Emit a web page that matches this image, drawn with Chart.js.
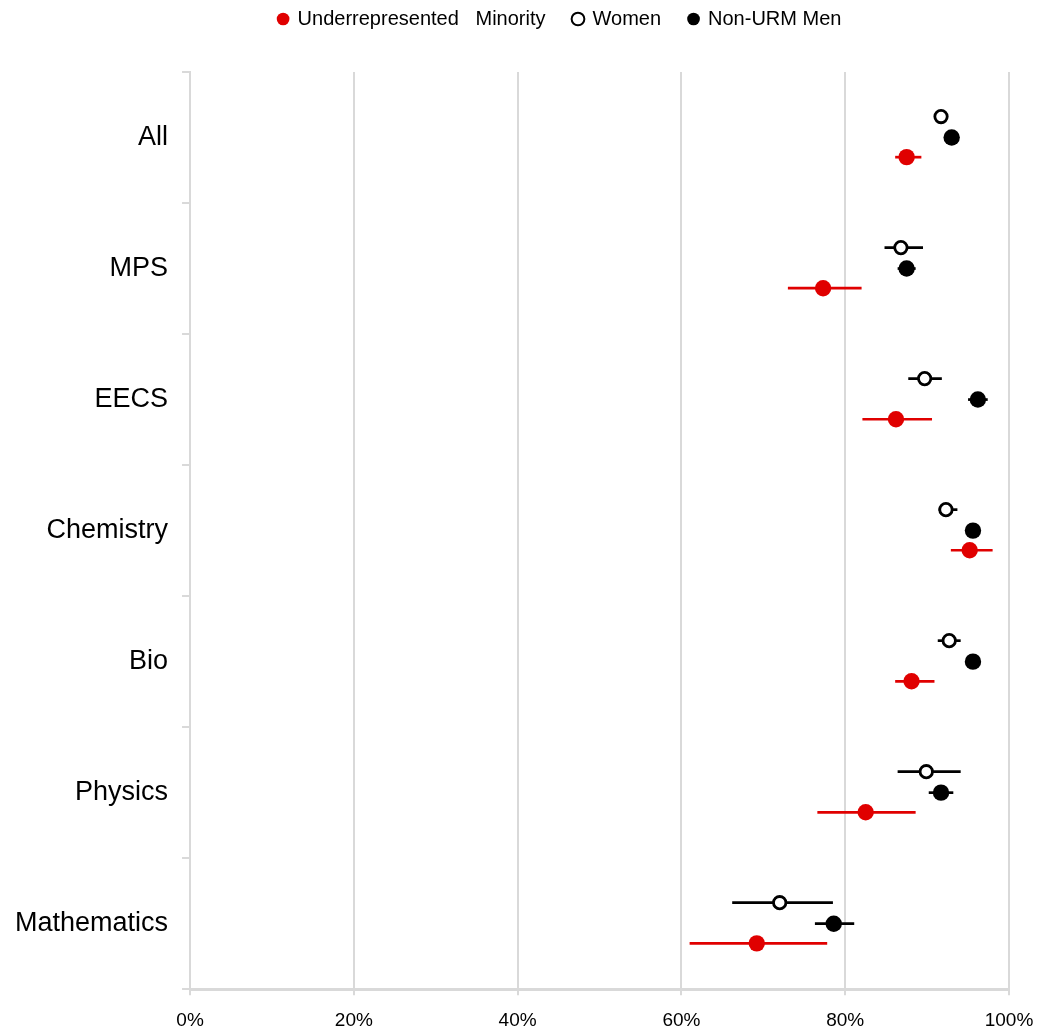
<!DOCTYPE html>
<html>
<head>
<meta charset="utf-8">
<script src="https://cdn.jsdelivr.net/npm/chart.js@4/dist/chart.umd.min.js"></script>
<style>
  html, body { margin: 0; padding: 0; background: #fff; }
  #wrap { width: 1052px; height: 1027px; }
</style>
</head>
<body>
<div id="wrap"><canvas id="grafico"></canvas></div>
<script>
// categorias e valores (percentual)
const categories = ['All', 'MPS', 'EECS', 'Chemistry', 'Bio', 'Physics', 'Mathematics'];
const xTickLabels = ['0%', '20%', '40%', '60%', '80%', '100%'];

const urmValues = [87.5, 77.3, 86.2, 95.2, 88.1, 82.5, 69.2];
const urmLow    = [86.1, 73.0, 82.1, 92.9, 86.1, 76.6, 61.0];
const urmHigh   = [89.3, 82.0, 90.6, 98.0, 90.9, 88.6, 77.8];

const womenValues = [91.7, 86.8, 89.7, 92.3, 92.7, 89.9, 72.0];
const womenLow    = [91.2, 84.8, 87.7, 91.4, 91.3, 86.4, 66.2];
const womenHigh   = [92.2, 89.5, 91.8, 93.7, 94.1, 94.1, 78.5];

const menValues = [93.0, 87.5, 96.2, 95.6, 95.6, 91.7, 78.6];
const menLow    = [92.5, 86.4, 95.0, 95.1, 95.2, 90.2, 76.3];
const menHigh   = [93.5, 88.6, 97.4, 96.1, 96.0, 93.2, 81.1];

// deslocamento vertical de cada serie dentro da categoria
const offsets = { urm: 0.15, women: -0.16, men: 0 };
const fonte = 'Liberation Sans, Arial, sans-serif';

function montarPontos(valores, low, high, off) {
  return valores.map((v, i) => ({ x: v, y: i + off, low: low[i], high: high[i] }));
}

// barras de erro horizontais, desenhadas antes dos pontos
const barrasErro = {
  id: 'barrasErro',
  beforeDatasetsDraw(chart) {
    const ctx = chart.ctx;
    const xs = chart.scales.x;
    const ys = chart.scales.y;
    chart.data.datasets.forEach((ds) => {
      ctx.save();
      ctx.strokeStyle = ds.errColor;
      ctx.lineWidth = 2.7;
      ds.data.forEach((p) => {
        const y = ys.getPixelForValue(p.y);
        ctx.beginPath();
        ctx.moveTo(xs.getPixelForValue(p.low), y);
        ctx.lineTo(xs.getPixelForValue(p.high), y);
        ctx.stroke();
      });
      ctx.restore();
    });
  }
};

// espaco abaixo da legenda e legenda deslocada como no original
const ajusteLegenda = {
  id: 'ajusteLegenda',
  beforeInit(chart) {
    const legend = chart.legend;
    const fit = legend.fit;
    legend.fit = function () {
      fit.call(legend);
      legend.height = 72;
    };
    const draw = legend.draw;
    legend.draw = function () {
      chart.ctx.save();
      chart.ctx.translate(55, -19);
      draw.call(legend);
      chart.ctx.restore();
    };
  }
};

new Chart(document.getElementById('grafico'), {
  type: 'scatter',
  data: {
    datasets: [
      {
        label: 'Underrepresented   Minority',
        data: montarPontos(urmValues, urmLow, urmHigh, offsets.urm),
        backgroundColor: '#e00000',
        borderColor: '#e00000',
        borderWidth: 0,
        pointRadius: 8.2,
        errColor: '#e00000',
      },
      {
        label: 'Women',
        data: montarPontos(womenValues, womenLow, womenHigh, offsets.women),
        backgroundColor: '#ffffff',
        borderColor: '#000000',
        borderWidth: 2.8,
        pointRadius: 6.2,
        errColor: '#000000',
      },
      {
        label: 'Non-URM Men',
        data: montarPontos(menValues, menLow, menHigh, offsets.men),
        backgroundColor: '#000000',
        borderColor: '#000000',
        borderWidth: 0,
        pointRadius: 8.2,
        errColor: '#000000',
      },
    ],
  },
  options: {
    responsive: true,
    maintainAspectRatio: false,
    animation: false,
    layout: { padding: { left: 1, right: 43, top: 0, bottom: -19 } },
    plugins: {
      legend: {
        position: 'top',
        labels: {
          usePointStyle: true,
          pointStyle: 'circle',
          boxWidth: 9,
          boxHeight: 9,
          padding: 28,
          color: '#000',
          font: { family: fonte, size: 20 },
          generateLabels: (chart) =>
            Chart.defaults.plugins.legend.labels.generateLabels(chart).map((l) => ({
              ...l,
              lineWidth: l.lineWidth ? 2 : 0,
            })),
        },
      },
      tooltip: { enabled: false },
    },
    scales: {
      x: {
        type: 'linear',
        min: 0,
        max: 100,
        ticks: {
          stepSize: 20,
          color: '#000',
          padding: 14,
          font: { family: fonte, size: 19 },
          callback: (v) => xTickLabels[v / 20],
        },
        grid: { color: '#d9d9d9', lineWidth: 2, tickLength: 6 },
        border: { color: '#d9d9d9', width: 3 },
      },
      y: {
        type: 'linear',
        min: -0.5,
        max: 6.5,
        reverse: true,
        afterBuildTicks(axis) {
          const t = [];
          for (let v = -0.5; v <= 6.5; v += 0.5) t.push({ value: v });
          axis.ticks = t;
        },
        ticks: {
          autoSkip: false,
          color: '#000',
          padding: 14,
          font: { family: fonte, size: 27 },
          callback: (v) => (Number.isInteger(v) ? categories[v] : ''),
        },
        grid: {
          drawOnChartArea: false,
          tickLength: 8,
          lineWidth: 2,
          tickColor: (c) => (c.tick && !Number.isInteger(c.tick.value) ? '#d9d9d9' : 'rgba(0,0,0,0)'),
        },
        border: { color: '#d9d9d9', width: 2 },
      },
    },
  },
  plugins: [barrasErro, ajusteLegenda],
});
</script>
</body>
</html>
